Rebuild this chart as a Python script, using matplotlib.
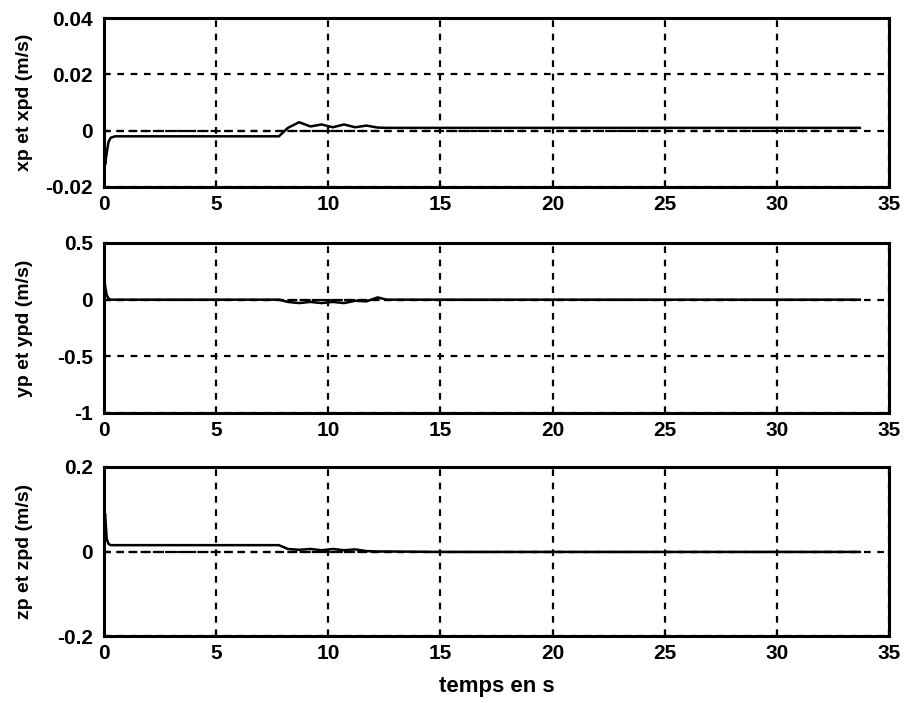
import matplotlib
matplotlib.use("Agg")
import matplotlib.pyplot as plt
import numpy as np

plt.rcParams['font.family'] = ['Liberation Sans', 'DejaVu Sans']
plt.rcParams['font.weight'] = 'bold'

# Time axis shared by the three velocity components (s)
t = [0.0, 0.05, 0.12, 0.2, 0.3, 0.5, 1.0, 3.0, 5.0, 7.0, 7.8, 8.2, 8.7, 9.2, 9.7,
     10.2, 10.7, 11.2, 11.7, 12.2, 12.6, 15.0, 20.0, 25.0, 30.0, 33.7]

# Measured velocities (m/s)
xp = [0.004, -0.012, -0.008, -0.004, -0.0025, -0.002, -0.002, -0.002, -0.002, -0.002,
      -0.002, 0.001, 0.003, 0.0015, 0.0022, 0.0012, 0.0022, 0.0012, 0.0018, 0.0011,
      0.001, 0.001, 0.001, 0.001, 0.001, 0.001]
yp = [0.22, 0.12, 0.04, 0.01, 0.0, 0.0, 0.0, 0.0, 0.0, 0.0,
      0.0, -0.02, -0.03, -0.02, -0.03, -0.02, -0.03, -0.01, -0.015, 0.02,
      0.0, 0.0, 0.0, 0.0, 0.0, 0.0]
zp = [0.02, 0.09, 0.03, 0.018, 0.015, 0.015, 0.015, 0.015, 0.015, 0.015,
      0.015, 0.006, 0.004, 0.006, 0.003, 0.006, 0.003, 0.005, 0.001, 0.0,
      0.0, -0.001, -0.001, -0.001, -0.001, -0.001]

# Desired velocities (m/s)
t_d = [0.0, 33.7]
xpd = [0.0, 0.0]
ypd = [0.0, 0.0]
zpd = [0.0, 0.0]

ylabels = ['xp et xpd (m/s)', 'yp et ypd (m/s)', 'zp et zpd (m/s)']
ylims = [(-0.02, 0.04), (-1.0, 0.5), (-0.2, 0.2)]
yticks = [[-0.02, 0, 0.02, 0.04], [-1, -0.5, 0, 0.5], [-0.2, 0, 0.2]]
yticklabels = [['-0.02', '0', '0.02', '0.04'], ['-1', '-0.5', '0', '0.5'],
               ['-0.2', '0', '0.2']]
xticks = [0, 5, 10, 15, 20, 25, 30, 35]

fig = plt.figure(figsize=(9.05, 7.03), dpi=100)
W, H = 905, 703
boxes = [(104, 18, 889, 187), (104, 243, 889, 413), (104, 467, 889, 636)]

for i, (meas, des) in enumerate([(xp, xpd), (yp, ypd), (zp, zpd)]):
    x0, y0, x1, y1 = boxes[i]
    ax = fig.add_axes([x0 / W, 1 - y1 / H, (x1 - x0) / W, (y1 - y0) / H])
    ax.plot(t_d, des, color='black', lw=1.6, linestyle=(0, (3.0, 2.5)), zorder=3)
    ax.plot(t, meas, color='black', lw=1.8, zorder=4)
    ax.set_xlim(0, 35)
    ax.set_ylim(*ylims[i])
    ax.set_xticks(xticks)
    ax.set_xticklabels([str(v) for v in xticks])
    ax.set_yticks(yticks[i])
    ax.set_yticklabels(yticklabels[i])
    ax.grid(True, color='black', lw=1.6, linestyle=(0, (3.0, 3.0)))
    ax.set_axisbelow(True)
    for s in ax.spines.values():
        s.set_linewidth(2.2)
    ax.tick_params(direction='in', length=4, width=1.5, labelsize=15)
    ax.tick_params(axis='x', pad=6)
    ax.tick_params(axis='y', pad=8)
    for lab in ax.get_xticklabels() + ax.get_yticklabels():
        lab.set_fontweight('bold')
    ax.set_ylabel(ylabels[i], fontsize=14, fontweight='bold')
    ax.yaxis.set_label_coords((33 - x0) / (x1 - x0), 0.5)

ax.set_xlabel('temps en s', fontsize=16, fontweight='bold')
x0, y0, x1, y1 = boxes[2]
ax.xaxis.set_label_coords(0.5, (y1 - 676) / (y1 - y0))

fig.savefig('out.png', dpi=100)
